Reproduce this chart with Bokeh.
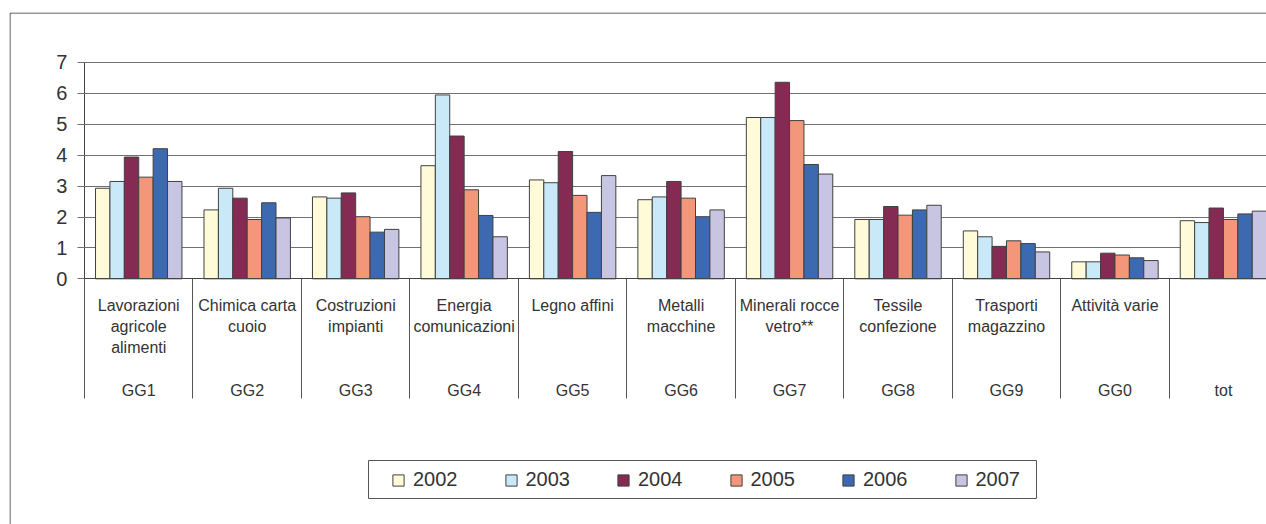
import numpy as np
from bokeh.plotting import figure
from bokeh.models import (ColumnDataSource, Range1d, FixedTicker, Legend, LegendItem,
                          BoxAnnotation)
from bokeh.embed import file_html
from bokeh.resources import INLINE

# ---------------- data ----------------
names = ["Lavorazioni\nagricole\nalimenti", "Chimica carta\ncuoio", "Costruzioni\nimpianti",
         "Energia\ncomunicazioni", "Legno affini", "Metalli\nmacchine",
         "Minerali rocce\nvetro**", "Tessile\nconfezione", "Trasporti\nmagazzino",
         "Attività varie", ""]
codes = ["GG1", "GG2", "GG3", "GG4", "GG5", "GG6", "GG7", "GG8", "GG9", "GG0", "tot"]
years = ["2002", "2003", "2004", "2005", "2006", "2007"]
y2002 = [2.93, 2.23, 2.65, 3.66, 3.20, 2.56, 5.22, 1.92, 1.55, 0.55, 1.88]
y2003 = [3.15, 2.93, 2.61, 5.95, 3.11, 2.65, 5.22, 1.92, 1.36, 0.55, 1.82]
y2004 = [3.94, 2.61, 2.78, 4.62, 4.12, 3.15, 6.36, 2.34, 1.05, 0.83, 2.29]
y2005 = [3.29, 1.92, 2.01, 2.88, 2.70, 2.61, 5.12, 2.06, 1.23, 0.77, 1.92]
y2006 = [4.21, 2.46, 1.51, 2.05, 2.15, 2.01, 3.70, 2.23, 1.14, 0.68, 2.10]
y2007 = [3.15, 1.97, 1.60, 1.36, 3.34, 2.23, 3.39, 2.38, 0.87, 0.59, 2.19]
y_ticks = [0, 1, 2, 3, 4, 5, 6, 7]

series = [y2002, y2003, y2004, y2005, y2006, y2007]
colors = ["#FFFBD8", "#C9E9F9", "#842A53", "#F4967A", "#3D69B1", "#C8C5E2"]

FONT = "Liberation Sans"
TXT = "#333333"

n = len(codes)
p = figure(width=1266, height=524, output_backend="svg", toolbar_location=None,
           x_range=Range1d(-1.1914, 10.397), y_range=Range1d(-7.951, 8.618),
           min_border_left=9, min_border_right=0, min_border_top=12, min_border_bottom=0)
p.outline_line_color = None
p.background_fill_color = "white"
p.border_fill_color = "white"
p.xgrid.visible = False
p.ygrid.visible = False

bw = 0.1328
renderers = []
for i, (yr, vals, c) in enumerate(zip(years, series, colors)):
    src = ColumnDataSource(dict(x=np.arange(n) + (i - 2.5) * bw, top=vals))
    r = p.vbar(x="x", top="top", width=bw, bottom=0, source=src, fill_color=c,
               line_color="#404040", line_width=1)
    renderers.append(r)

# y axis (drawn at the left edge of the first category; its inner ticks form the grid)
ya = p.yaxis[0]
ya.fixed_location = -0.5
ya.level = "underlay"
ya.ticker = FixedTicker(ticks=y_ticks)
ya.bounds = (0, 7)
ya.major_label_text_font = FONT
ya.major_label_text_font_size = "20px"
ya.major_label_text_color = TXT
ya.axis_line_color = "#444444"
ya.major_tick_line_color = "#707070"
ya.major_tick_out = 7
ya.major_tick_in = 1190
ya.minor_tick_line_color = None
ya.major_label_standoff = 10

# x axis
labels = {}
for i, (nm, cd) in enumerate(zip(names, codes)):
    lines = nm.split("\n") if nm else []
    lines = lines + [""] * (3 - len(lines))
    labels[i] = "\n".join(lines + ["", cd])
xa = p.xaxis[0]
xa.fixed_location = 0
xa.bounds = (-0.5, 10.397)
xa.ticker = FixedTicker(ticks=list(range(n)), minor_ticks=[k - 0.5 for k in range(n + 1)])
xa.major_label_overrides = labels
xa.major_tick_line_color = None
xa.major_tick_out = 0
xa.major_tick_in = 0
xa.minor_tick_out = 120
xa.minor_tick_in = 0
xa.minor_tick_line_color = "#555555"
xa.axis_line_color = "#444444"
xa.major_label_text_font = FONT
xa.major_label_text_font_size = "16px"
xa.major_label_text_color = TXT
xa.major_label_text_line_height = 1.25
xa.major_label_standoff = -102
xa.major_label_orientation = "horizontal"

# legend
items = [LegendItem(label=yr, renderers=[r]) for yr, r in zip(years, renderers)]
legend = Legend(items=items, orientation="horizontal", location=(382, 33),
                glyph_width=14, glyph_height=14, label_standoff=8, spacing=46,
                padding=5, border_line_color=None, background_fill_alpha=0,
                label_text_font=FONT, label_text_font_size="20px", label_text_color=TXT)
p.add_layout(legend, "center")

# legend frame and outer chart border
p.add_layout(BoxAnnotation(left=368, right=1036, top=460, bottom=498,
                           left_units="canvas", right_units="canvas",
                           top_units="canvas", bottom_units="canvas",
                           fill_alpha=0, line_color="#555555", line_alpha=1.0,
                           line_width=1, level="underlay"))
p.add_layout(BoxAnnotation(left=9.5, right=3000, top=12.5, bottom=3000,
                           left_units="canvas", right_units="canvas",
                           top_units="canvas", bottom_units="canvas",
                           fill_alpha=0, line_color="#333333", line_alpha=1.0, line_width=1))

open("out.html", "w").write(file_html(p, INLINE))
